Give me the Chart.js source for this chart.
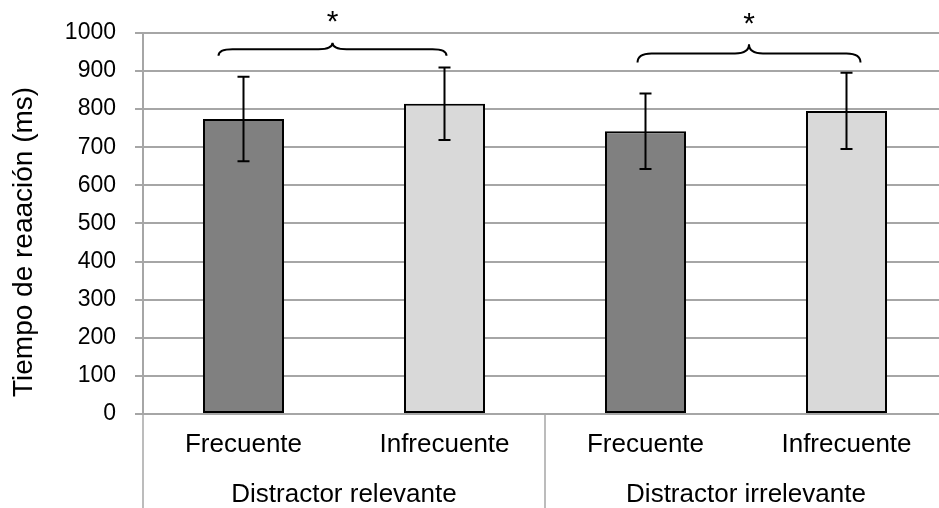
<!DOCTYPE html>
<html>
<head>
<meta charset="utf-8">
<script src="https://cdn.jsdelivr.net/npm/chart.js@4.4.1/dist/chart.umd.min.js"></script>
<style>
  html, body { margin: 0; padding: 0; background: #fff; overflow: hidden; }
  canvas { display: block; }
</style>
</head>
<body>
<canvas id="rtChart" width="950" height="508"></canvas>
<script>
// Mean reaction time per condition, with error bar half-lengths
const categories = ['Frecuente', 'Infrecuente', 'Frecuente', 'Infrecuente'];
const groups = ['Distractor relevante', 'Distractor irrelevante'];
const meanRT = [774, 814, 742, 795];
const errRT = [111, 95, 99, 100];
const barColors = ['#808080', '#d9d9d9', '#808080', '#d9d9d9'];
const yTicks = [0, 100, 200, 300, 400, 500, 600, 700, 800, 900, 1000];
const yTitle = 'Tiempo de reaación (ms)';

// Significance braces: pair of bar indices joined by each brace
const bracePairs = [[0, 1], [2, 3]];

const gridGray = '#a6a6a6';
const fontFamily = '"Liberation Sans", Arial, sans-serif';

// Error bars drawn on top of the bars
const errorBarPlugin = {
    id: 'errorBars',
    afterDatasetsDraw(chart) {
        const { ctx } = chart;
        const yScale = chart.scales.y;
        const meta = chart.getDatasetMeta(0);
        ctx.save();
        ctx.strokeStyle = '#000';
        ctx.lineWidth = 2;
        meta.data.forEach((bar, i) => {
            const x = bar.x;
            const top = yScale.getPixelForValue(meanRT[i] + errRT[i]);
            const bottom = yScale.getPixelForValue(meanRT[i] - errRT[i]);
            ctx.beginPath();
            ctx.moveTo(x, top);
            ctx.lineTo(x, bottom);
            ctx.moveTo(x - 6, top);
            ctx.lineTo(x + 6, top);
            ctx.moveTo(x - 6, bottom);
            ctx.lineTo(x + 6, bottom);
            ctx.stroke();
        });
        ctx.restore();
    }
};

// Curly braces with an asterisk over each compared pair
const bracePlugin = {
    id: 'braces',
    afterDraw(chart, args, opts) {
        const { ctx } = chart;
        const xScale = chart.scales.x;
        const yScale = chart.scales.y;
        ctx.save();
        ctx.strokeStyle = '#000';
        ctx.lineWidth = 2;
        ctx.fillStyle = '#000';
        bracePairs.forEach(([a, b], k) => {
            const s = opts.shapes[k];
            const x0 = xScale.getPixelForValue(a) + s.dx0;
            const x1 = xScale.getPixelForValue(b) + s.dx1;
            const xm = x0 + (x1 - x0) * s.peak;
            const yTip = yScale.getPixelForValue(s.tip);
            const yLine = yScale.getPixelForValue(s.line);
            const yPeak = yScale.getPixelForValue(s.top);
            const r = 14;
            ctx.beginPath();
            ctx.moveTo(x0, yTip);
            ctx.quadraticCurveTo(x0, yLine, x0 + r, yLine);
            ctx.lineTo(xm - r, yLine);
            ctx.quadraticCurveTo(xm, yLine, xm, yPeak);
            ctx.quadraticCurveTo(xm, yLine, xm + r, yLine);
            ctx.lineTo(x1 - r, yLine);
            ctx.quadraticCurveTo(x1, yLine, x1, yTip);
            ctx.stroke();

            ctx.font = '30px ' + fontFamily;
            ctx.textAlign = 'center';
            ctx.textBaseline = 'middle';
            ctx.fillText('*', xm, yScale.getPixelForValue(s.star) + 6);
        });
        ctx.restore();
    }
};

// Vertical separators under the category axis, plus the rotated y title
const axisDecorPlugin = {
    id: 'axisDecor',
    afterDraw(chart) {
        const { ctx, chartArea } = chart;
        const xScale = chart.scales.x;
        const half = (xScale.getPixelForValue(1) + xScale.getPixelForValue(2)) / 2;
        ctx.save();
        ctx.strokeStyle = gridGray;
        ctx.lineWidth = 1.5;
        [chartArea.left, half, chartArea.right].forEach(x => {
            ctx.beginPath();
            ctx.moveTo(x, chartArea.bottom);
            ctx.lineTo(x, chart.height);
            ctx.stroke();
        });

        // title sits a little below the plot's vertical centre
        ctx.translate(24, chartArea.bottom - 17);
        ctx.rotate(-Math.PI / 2);
        ctx.fillStyle = '#000';
        ctx.font = '28px ' + fontFamily;
        ctx.textAlign = 'left';
        ctx.textBaseline = 'middle';
        ctx.fillText(yTitle, 0, 0);
        ctx.restore();
    }
};

new Chart(document.getElementById('rtChart'), {
    type: 'bar',
    data: {
        labels: categories,
        datasets: [{
            data: meanRT,
            backgroundColor: barColors,
            borderColor: '#000',
            borderWidth: 2,
            borderSkipped: false,
            categoryPercentage: 1,
            barPercentage: 0.403
        }]
    },
    options: {
        responsive: false,
        animation: false,
        layout: { padding: { top: 30, right: 3, left: 0, bottom: 0 } },
        plugins: {
            legend: { display: false },
            tooltip: { enabled: false },
            braces: {
                shapes: [
                    { dx0: -25, dx1: 2, peak: 0.5, tip: 940, line: 957, top: 974, star: 1043 },
                    { dx0: -8, dx1: 14, peak: 0.5, tip: 922, line: 946, top: 970, star: 1038 }
                ]
            }
        },
        scales: {
            x: {
                afterFit: scale => { scale.height = 44; },
                grid: { display: false, drawTicks: false },
                border: { display: true, color: gridGray, width: 2 },
                ticks: {
                    color: '#000',
                    padding: 15,
                    font: { family: fontFamily, size: 26 }
                }
            },
            x2: {
                type: 'category',
                position: 'bottom',
                labels: groups,
                offset: true,
                afterFit: scale => { scale.height = 50; },
                grid: { display: false, drawTicks: false },
                border: { display: false },
                ticks: {
                    color: '#000',
                    padding: 21,
                    font: { family: fontFamily, size: 26 }
                }
            },
            y: {
                min: 0,
                max: 1000,
                afterBuildTicks: scale => {
                    scale.ticks = yTicks.map(v => ({ value: v }));
                },
                afterFit: scale => { scale.width = 143; },
                grid: { color: gridGray, lineWidth: 2, tickLength: 8 },
                border: { color: gridGray, width: 2 },
                ticks: {
                    color: '#000',
                    padding: 19,
                    font: { family: fontFamily, size: 23 },
                    callback: v => String(v)
                }
            }
        }
    },
    plugins: [errorBarPlugin, bracePlugin, axisDecorPlugin]
});
</script>
</body>
</html>
